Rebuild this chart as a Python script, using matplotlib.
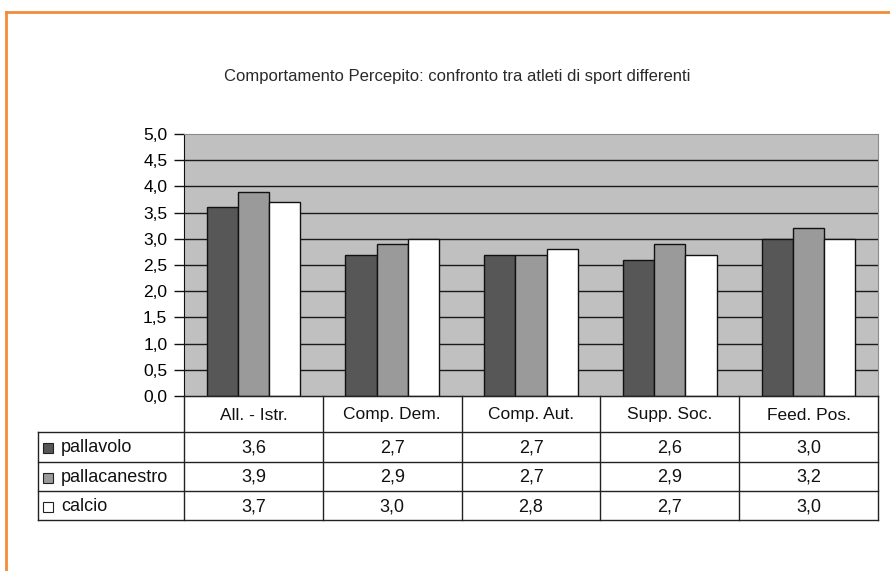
import matplotlib
matplotlib.use('Agg')
import matplotlib.pyplot as plt
from matplotlib.patches import Rectangle
from matplotlib.lines import Line2D

plt.rcParams['font.family'] = ['Liberation Sans', 'DejaVu Sans']

# ── Data ──────────────────────────────────────────────────────────
categories = ['All. - Istr.', 'Comp. Dem.', 'Comp. Aut.', 'Supp. Soc.', 'Feed. Pos.']
series = ['pallavolo', 'pallacanestro', 'calcio']
pallavolo = [3.6, 2.7, 2.7, 2.6, 3.0]
pallacanestro = [3.9, 2.9, 2.7, 2.9, 3.2]
calcio = [3.7, 3.0, 2.8, 2.7, 3.0]
yticks = [0.0, 0.5, 1.0, 1.5, 2.0, 2.5, 3.0, 3.5, 4.0, 4.5, 5.0]

values = [pallavolo, pallacanestro, calcio]
colors = ['#575757', '#9a9a9a', '#ffffff']

W, H = 890, 571
fig = plt.figure(figsize=(W / 100, H / 100), dpi=100)

def px_axes(x0, y0, x1, y1):
    return fig.add_axes([x0 / W, 1 - y1 / H, (x1 - x0) / W, (y1 - y0) / H])

# orange frame (top and left edges)
fig.add_artist(Line2D([6 / W, 1], [1 - 12 / H, 1 - 12 / H], color='#f28c38', lw=2,
                      transform=fig.transFigure))
fig.add_artist(Line2D([6 / W, 6 / W], [0, 1 - 12 / H], color='#f28c38', lw=2,
                      transform=fig.transFigure))

fig.text(457 / W, 1 - 76 / H, 'Comportamento Percepito: confronto tra atleti di sport differenti',
         ha='center', va='center', fontsize=12, color='#2a2a2a')

# ── Bar chart ─────────────────────────────────────────────────────
ax = px_axes(184, 134, 878, 396)
ax.set_facecolor('#c0c0c0')
bw = 0.225
for i, (vals, c) in enumerate(zip(values, colors)):
    xs = [k + 0.5 + (i - 1) * bw for k in range(len(categories))]
    ax.bar(xs, vals, bw, color=c, edgecolor='#111111', lw=1, zorder=3)

ax.set_xlim(0, len(categories))
ax.set_ylim(0, 5)
ax.set_yticks(yticks)
ax.set_yticklabels([f'{t:.1f}'.replace('.', ',') for t in yticks], fontsize=12.5)
ax.set_xticks([])
for t in yticks[1:-1]:
    ax.axhline(t, color='#1a1a1a', lw=1, zorder=1)
ax.tick_params(axis='y', length=7, width=1, color='#111111', pad=5)
ax.spines['left'].set_color('#111111')
ax.spines['bottom'].set_color('#111111')
ax.spines['top'].set_color('#8a8a8a')
ax.spines['right'].set_color('#8a8a8a')

# ── Data table ────────────────────────────────────────────────────
tx0, tx1 = 38, 878
col0 = 184
colw = (tx1 - col0) / len(categories)
row_y = [396, 432, 462, 491, 520]

tab = px_axes(0, 0, W, H)
tab.set_xlim(0, W)
tab.set_ylim(H, 0)
tab.axis('off')

lc = '#222222'
# horizontal rules
tab.plot([col0, tx1], [row_y[0], row_y[0]], color=lc, lw=1)
for y in row_y[1:]:
    tab.plot([tx0, tx1], [y, y], color=lc, lw=1)
# vertical rules
tab.plot([tx0, tx0], [row_y[1], row_y[-1]], color=lc, lw=1)
for k in range(len(categories) + 1):
    x = col0 + k * colw
    tab.plot([x, x], [row_y[0], row_y[-1]], color=lc, lw=1)

for k, cat in enumerate(categories):
    tab.text(col0 + (k + 0.5) * colw, (row_y[0] + row_y[1]) / 2 + 1, cat,
             ha='center', va='center', fontsize=12.5, color='#111111')

for r, (name, vals, c) in enumerate(zip(series, values, colors)):
    yc = (row_y[r + 1] + row_y[r + 2]) / 2 + 1
    tab.add_patch(Rectangle((43, yc - 5), 10, 10, facecolor=c, edgecolor='#222222', lw=0.8))
    tab.text(61, yc, name, ha='left', va='center', fontsize=13, color='#111111')
    for k, v in enumerate(vals):
        tab.text(col0 + (k + 0.5) * colw, yc, f'{v:.1f}'.replace('.', ','),
                 ha='center', va='center', fontsize=13, color='#111111')

fig.savefig('out.png', dpi=100)
